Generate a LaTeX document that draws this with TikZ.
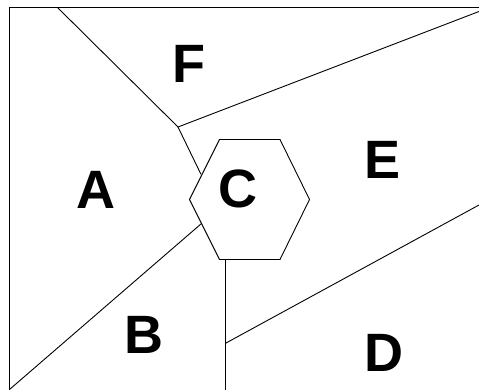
\documentclass[tikz,border=0pt]{standalone}
\usepackage{fontspec}
\setmainfont{Liberation Sans}
\begin{document}
\begin{tikzpicture}[x=1pt,y=-1pt,
  edge/.style={line width=0.9pt,black},
  lbl/.style={font=\fontsize{54}{54}\selectfont\bfseries,inner sep=0pt,anchor=center}]
\useasboundingbox (0,0) rectangle (479,390);
% frame
\coordinate (tl) at (9,7.5);
\coordinate (tr) at (479,7.5);
\coordinate (bl) at (9,390);
\draw[edge] (bl) -- (tl) -- (tr);
% hexagon C
\coordinate (h1) at (189.5,199.5);
\coordinate (h2) at (219.5,139.5);
\coordinate (h3) at (280,139.5);
\coordinate (h4) at (309.5,199.5);
\coordinate (h5) at (280,259.5);
\coordinate (h6) at (219.5,259.5);
\draw[edge] (h1) -- (h2) -- (h3) -- (h4) -- (h5) -- (h6) -- cycle;
% Voronoi edges
\coordinate (ftop) at (57.5,7.5);
\coordinate (j) at (178,127);
\coordinate (fe) at (479,11.5);
\coordinate (ha) at (200.9,174.2);
\coordinate (hb) at (201.5,223.5);
\coordinate (bb) at (9.5,389.5);
\coordinate (hv) at (225.5,259.5);
\coordinate (vb) at (225.5,390);
\coordinate (dj) at (225.5,343.3);
\coordinate (de) at (479,205);
\draw[edge] (ftop) -- (j) -- (fe);
\draw[edge] (j) -- (ha);
\draw[edge] (hb) -- (bb);
\draw[edge] (hv) -- (vb);
\draw[edge] (dj) -- (de);
% labels
\node[lbl] (A) at (95.5,190) {A};
\node[lbl] (B) at (144.3,335) {B};
\node[lbl] (C) at (238,188.5) {C};
\node[lbl] (D) at (384,352.5) {D};
\node[lbl] (E) at (382.5,159.5) {E};
\node[lbl] (F) at (188.5,63.5) {F};
\end{tikzpicture}
\end{document}
